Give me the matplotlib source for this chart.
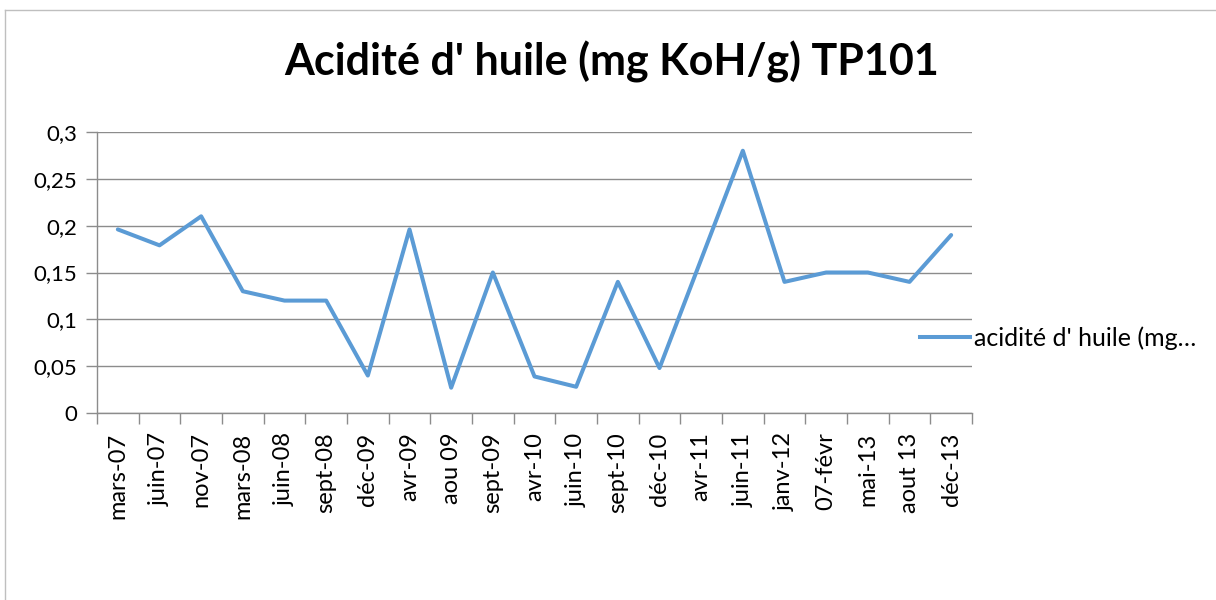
import matplotlib
matplotlib.use("Agg")
import matplotlib.pyplot as plt
import numpy as np
from matplotlib.lines import Line2D

categories = ["mars-07", "juin-07", "nov-07", "mars-08", "juin-08", "sept-08",
              "déc-09", "avr-09", "aou 09", "sept-09", "avr-10", "juin-10",
              "sept-10", "déc-10", "avr-11", "juin-11", "janv-12", "07-févr",
              "mai-13", "aout 13", "déc-13"]
acidite = [0.196, 0.179, 0.21, 0.13, 0.12, 0.12, 0.04, 0.196, 0.027, 0.15,
           0.039, 0.028, 0.14, 0.048, 0.164, 0.28, 0.14, 0.15, 0.15, 0.14, 0.19]
yticks = [0, 0.05, 0.1, 0.15, 0.2, 0.25, 0.3]
ytick_labels = ["0", "0,05", "0,1", "0,15", "0,2", "0,25", "0,3"]

plt.rcParams['font.family'] = ['Lato', 'DejaVu Sans']

fig = plt.figure(figsize=(12.16, 6), dpi=100)
ax = fig.add_axes([97 / 1216, 1 - 413 / 600, 875 / 1216, 281 / 600])

grid_c = "#8c8c8c"
blue = "#5B9BD5"

x = np.arange(len(categories))
ax.plot(x, acidite, color=blue, lw=2.9, solid_joinstyle="round",
        solid_capstyle="round")

ax.set_xlim(-0.5, len(categories) - 0.5)
ax.set_ylim(0, 0.3)
ax.set_yticks(yticks)
ax.set_yticklabels(ytick_labels, fontsize=16)
ax.yaxis.grid(True, color=grid_c, lw=1)
ax.set_axisbelow(True)

ax.set_xticks(x)
ax.set_xticklabels(categories, rotation=90, fontsize=17)
ax.set_xticks(np.arange(-0.5, len(categories)), minor=True)
ax.tick_params(axis="x", which="major", length=0, pad=14)
ax.tick_params(axis="x", which="minor", length=8, color=grid_c, width=1)
ax.tick_params(axis="y", length=8, color=grid_c, width=1, pad=6)

for s in ["top", "right"]:
    ax.spines[s].set_visible(False)
for s in ["left", "bottom"]:
    ax.spines[s].set_color(grid_c)
    ax.spines[s].set_linewidth(1)

fig.text(612 / 1216, 1 - 62 / 600, "Acidité d' huile (mg KoH/g) TP101",
         ha="center", va="center", fontsize=31, fontweight="bold")

fig.legend(handles=[Line2D([], [], color=blue, lw=2.9)],
           labels=["acidité d' huile (mg…"], loc="center left",
           bbox_to_anchor=(920 / 1216, 1 - 338 / 600), frameon=False,
           fontsize=18, handlelength=2.0, handletextpad=0.15,
           borderpad=0, borderaxespad=0)

# chart border
fig.add_artist(Line2D([5 / 1216, 5 / 1216], [0, 1 - 10 / 600], color="#bfbfbf", lw=1,
                      transform=fig.transFigure))
fig.add_artist(Line2D([5 / 1216, 1], [1 - 10 / 600, 1 - 10 / 600], color="#bfbfbf", lw=1,
                      transform=fig.transFigure))

fig.savefig("out.png", dpi=100)
